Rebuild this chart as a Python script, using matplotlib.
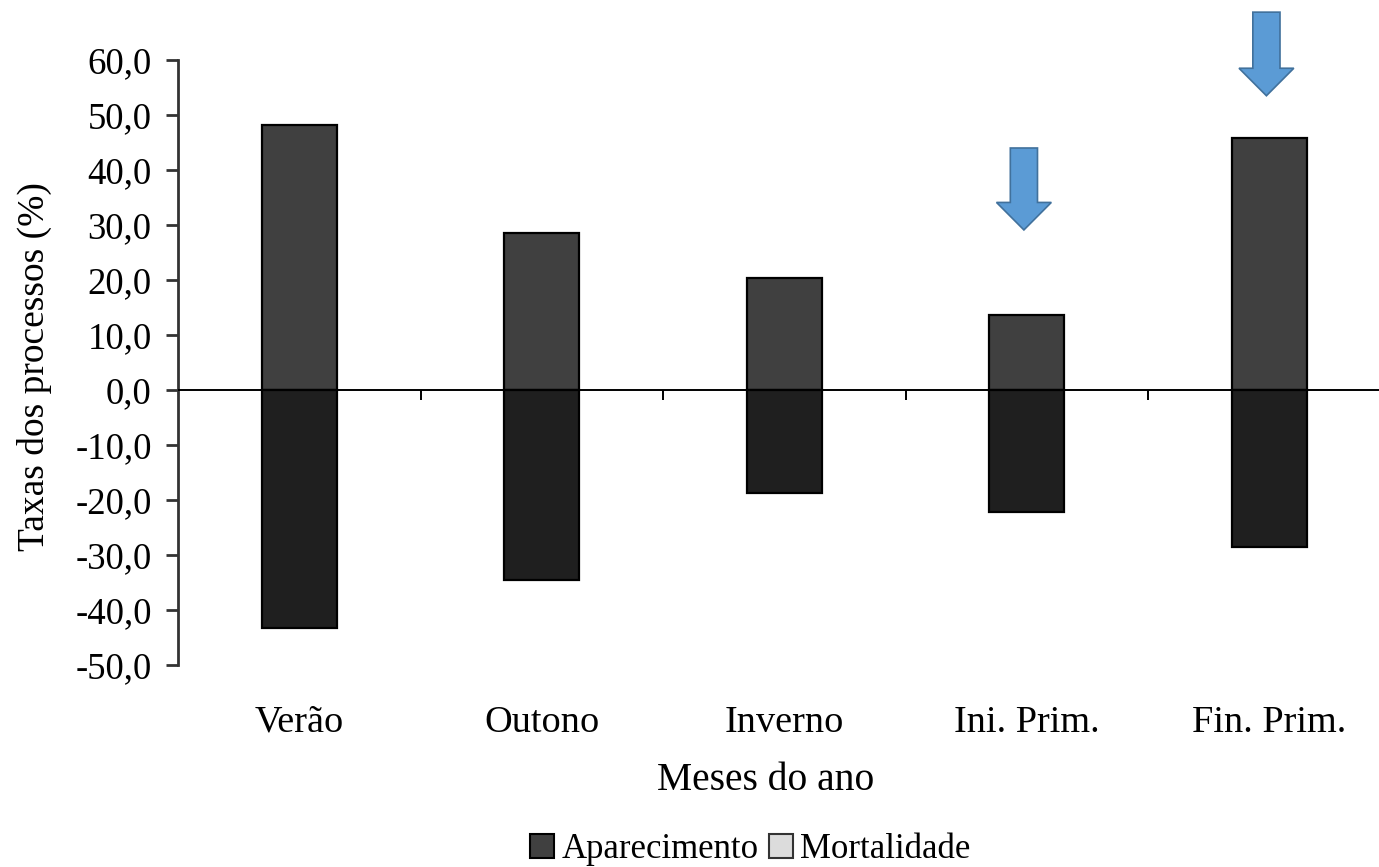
import matplotlib
matplotlib.use('Agg')
import matplotlib.pyplot as plt
from matplotlib.patches import FancyArrow, Patch

plt.rcParams['font.family'] = ['Liberation Serif', 'DejaVu Serif']

# Dados
estacoes = ['Verão', 'Outono', 'Inverno', 'Ini. Prim.', 'Fin. Prim.']
aparecimento = [48.2, 28.5, 20.4, 13.6, 45.8]
mortalidade = [-43.3, -34.5, -18.7, -22.2, -28.5]
yticks = [-50, -40, -30, -20, -10, 0, 10, 20, 30, 40, 50, 60]

# Setas de destaque (indice da estacao, topo, ponta)
setas = [(3, 44.0, 29.1), (4, 68.7, 53.5)]

fig = plt.figure(figsize=(13.79, 8.67), dpi=100)
ax = fig.add_axes([0.1291, 0.2330, 0.8793, 0.6978])

x = list(range(len(estacoes)))
largura = 0.31
ax.bar(x, aparecimento, width=largura, color='#404040', edgecolor='black', linewidth=1.6, zorder=2)
ax.bar(x, mortalidade, width=largura, color='#1f1f1f', edgecolor='black', linewidth=1.6, zorder=2)

# linha do zero e marcas separadoras
ax.axhline(0, color='black', linewidth=1.4, zorder=3)
ax.vlines([i + 0.5 for i in x[:-1]], 0, -1.8, color='black', linewidth=1.4, zorder=3)

ax.set_xlim(-0.5, 4.5)
ax.set_ylim(-50, 60)
for lado in ['top', 'right', 'bottom']:
    ax.spines[lado].set_visible(False)
ax.spines['left'].set_color('#333333')
ax.spines['left'].set_linewidth(2)

ax.set_yticks(yticks)
ax.set_yticklabels([f'{v:.1f}'.replace('.', ',') for v in yticks], fontsize=26.5)
ax.tick_params(axis='y', direction='out', length=9, width=2, color='#333333', pad=10)
ax.set_xticks(x)
ax.set_xticklabels(estacoes, fontsize=27.5)
ax.tick_params(axis='x', length=0, pad=29)

for i, topo, ponta in setas:
    seta = FancyArrow(i - 0.012, topo, 0, ponta - topo, width=0.112, head_width=0.226,
                      head_length=5.0, length_includes_head=True,
                      facecolor='#5b9bd5', edgecolor='#41719c',
                      linewidth=1.2, clip_on=False, zorder=4)
    ax.add_patch(seta)

fig.text(0.555, 0.100, 'Meses do ano', fontsize=28.5, ha='center', va='center')
fig.text(0.025, 0.577, 'Taxas dos processos (%)', fontsize=27, rotation=90, ha='center', va='center')

handles = [Patch(facecolor='#404040', edgecolor='black', linewidth=1.5),
           Patch(facecolor='#dcdcdc', edgecolor='#333333', linewidth=1.5)]
fig.legend(handles, ['Aparecimento', 'Mortalidade'], loc='center', bbox_to_anchor=(0.544, 0.020),
           ncol=2, frameon=False, fontsize=25, handlelength=0.7, handleheight=0.7,
           handletextpad=0.2, columnspacing=0.3, borderpad=0)

fig.savefig('out.png', dpi=100)
